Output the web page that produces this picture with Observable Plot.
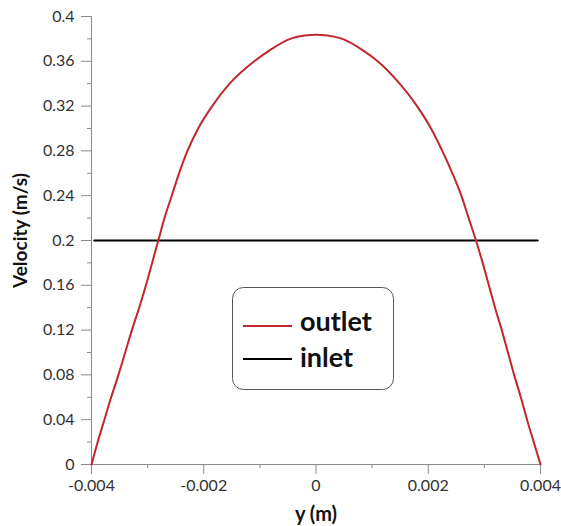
<!DOCTYPE html>
<html>
<head>
<meta charset="utf-8">
<script src="https://cdn.jsdelivr.net/npm/d3@7"></script>
<script src="https://cdn.jsdelivr.net/npm/@observablehq/plot@0.6"></script>
<style>
  html, body { margin: 0; padding: 0; background: #fff; }
  #wrap { position: relative; width: 561px; height: 526px; font-family: Lato, "Open Sans", sans-serif; }
  #legend { position: absolute; left: 0; top: 0; pointer-events: none; }
</style>
</head>
<body>
<div id="wrap">
  <div id="chart"></div>
  <svg id="legend" width="561" height="526">
    <rect x="232.5" y="287.5" width="161" height="102" rx="11" ry="11" fill="#fff" stroke="#555" stroke-width="1"></rect>
    <line x1="243" x2="292" y1="326" y2="326" stroke="#c1272d" stroke-width="2"></line>
    <text x="300" y="331" font-family="Lato, 'Open Sans', sans-serif" font-weight="bold" font-size="27" fill="#111">outlet</text>
    <line x1="243" x2="292" y1="359" y2="359" stroke="#000" stroke-width="2"></line>
    <text x="300" y="367" font-family="Lato, 'Open Sans', sans-serif" font-weight="bold" font-size="27" fill="#111">inlet</text>
  </svg>
</div>
<script>
// Outlet velocity profile: y position (m) and velocity (m/s)
const outletY = [-0.00400, -0.00389, -0.00377, -0.00365, -0.00352, -0.00340, -0.00328, -0.00315, -0.00303, -0.00292, -0.00281, -0.00270, -0.00257, -0.00244, -0.00229, -0.00210, -0.00185, -0.00154, -0.00110, -0.00082, -0.00046, -0.00020, 0.00000, 0.00020, 0.00047, 0.00083, 0.00110, 0.00149, 0.00180, 0.00205, 0.00225, 0.00243, 0.00259, 0.00272, 0.00285, 0.00297, 0.00308, 0.00319, 0.00331, 0.00342, 0.00353, 0.00365, 0.00376, 0.00388, 0.00400];
const outletV = [0, 0.02, 0.04, 0.06, 0.08, 0.10, 0.12, 0.14, 0.16, 0.18, 0.20, 0.22, 0.24, 0.26, 0.28, 0.30, 0.32, 0.34, 0.36, 0.37, 0.38, 0.383, 0.3836, 0.383, 0.38, 0.37, 0.36, 0.34, 0.32, 0.30, 0.28, 0.26, 0.24, 0.22, 0.20, 0.18, 0.16, 0.14, 0.12, 0.10, 0.08, 0.06, 0.04, 0.02, 0];
// Inlet (uniform) profile
const inletY = [-0.00395, 0.00395];
const inletV = [0.2, 0.2];
// Ticks
const xMajor = [-0.004, -0.002, 0, 0.002, 0.004];
const xMinor = [-0.003, -0.001, 0.001, 0.003];
const yMajor = [0, 0.04, 0.08, 0.12, 0.16, 0.2, 0.24, 0.28, 0.32, 0.36, 0.4];
const yMinor = [0.02, 0.06, 0.1, 0.14, 0.18, 0.22, 0.26, 0.3, 0.34, 0.38];

const outlet = outletY.map((y, i) => ({y, v: outletV[i]}));
const inlet = inletY.map((y, i) => ({y, v: inletV[i]}));

const fmt = d => String(+d.toFixed(4));
const axisColor = "#8a8a8a";

const chart = Plot.plot({
  width: 561,
  height: 526,
  marginLeft: 91,
  marginRight: 21,
  marginTop: 16,
  marginBottom: 62,
  style: {fontFamily: "Lato, 'Open Sans', sans-serif", fontSize: "16px", color: "#333", background: "#fff"},
  x: {domain: [-0.004, 0.004]},
  y: {domain: [0, 0.4]},
  marks: [
    Plot.axisX(xMajor, {tickSize: 10, tickPadding: 5, tickFormat: fmt, stroke: axisColor, fill: "#333", label: null, fontSize: 16}),
    Plot.axisX(xMinor, {tickSize: 4, tickFormat: () => "", stroke: axisColor, label: null}),
    Plot.axisY(yMajor, {tickSize: 10, tickPadding: 7, tickFormat: fmt, stroke: axisColor, fill: "#333", label: null, fontSize: 16}),
    Plot.axisY(yMinor, {tickSize: 4, tickFormat: () => "", stroke: axisColor, label: null}),
    Plot.ruleX([-0.004], {stroke: axisColor}),
    Plot.ruleY([0], {stroke: axisColor}),
    Plot.line(inlet, {x: "y", y: "v", stroke: "#000", strokeWidth: 2.2}),
    Plot.line(outlet, {x: "y", y: "v", stroke: "#c1272d", strokeWidth: 2, curve: "monotone-x"}),
    Plot.text(["Velocity (m/s)"], {frameAnchor: "left", textAnchor: "middle", lineAnchor: "middle", dx: -71, dy: -10, rotate: -90, fontWeight: "bold", fontSize: 19, fill: "#111"}),
    Plot.text(["y (m)"], {frameAnchor: "bottom", textAnchor: "middle", lineAnchor: "middle", dy: 50, fontWeight: "bold", fontSize: 20, fill: "#111"})
  ]
});
document.getElementById("chart").appendChild(chart);
</script>
</body>
</html>
